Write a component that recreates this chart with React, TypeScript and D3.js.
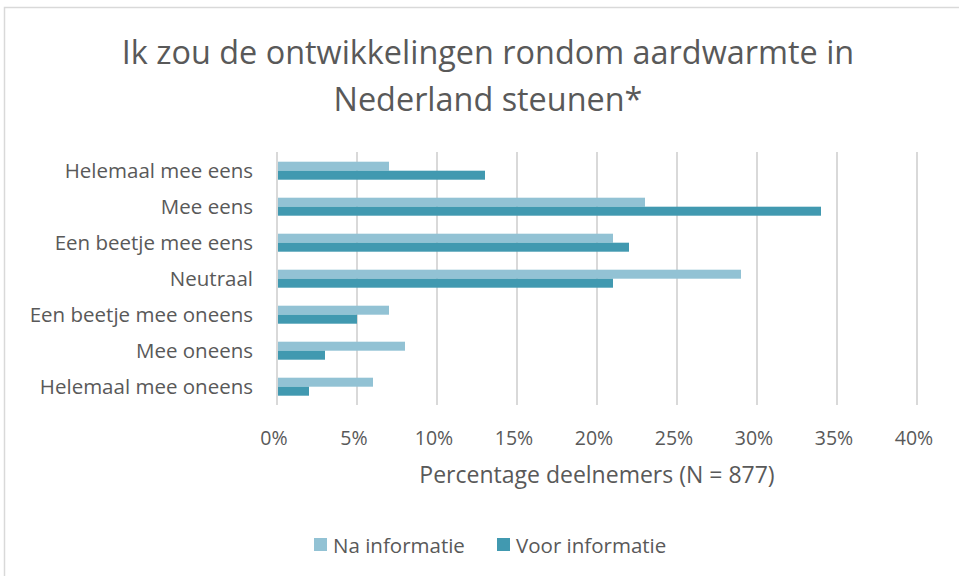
import { useEffect, useRef } from 'react';
import * as d3 from 'd3';

const categories = [
  'Helemaal mee eens',
  'Mee eens',
  'Een beetje mee eens',
  'Neutraal',
  'Een beetje mee oneens',
  'Mee oneens',
  'Helemaal mee oneens',
];
const naInformatie = [7, 23, 21, 29, 7, 8, 6];
const voorInformatie = [13, 34, 22, 21, 5, 3, 2];
const xTicks = [0, 5, 10, 15, 20, 25, 30, 35, 40];

const seriesNames = ['Na informatie', 'Voor informatie'];
const seriesColors = ['#92c2d4', '#4199b0'];

export default function App() {
  const svgRef = useRef<SVGSVGElement>(null);

  useEffect(() => {
    if (!svgRef.current) return;
    const svg = d3.select(svgRef.current);
    svg.selectAll('*').remove();

    const width = 959;
    const height = 576;
    const font = "'Open Sans', 'Noto Sans', sans-serif";
    const textColor = '#595959';

    // chart border
    svg.append('rect')
      .attr('x', 4.5)
      .attr('y', 7.5)
      .attr('width', width + 10)
      .attr('height', height + 10)
      .attr('fill', '#fff')
      .attr('stroke', '#d9d9d9')
      .attr('stroke-width', 1.5);

    // title
    const title = svg.append('text')
      .attr('text-anchor', 'middle')
      .attr('font-family', font)
      .attr('font-size', 32.4)
      .attr('fill', textColor);
    title.append('tspan').attr('x', 488).attr('y', 64)
      .text('Ik zou de ontwikkelingen rondom aardwarmte in');
    title.append('tspan').attr('x', 488).attr('y', 111)
      .text('Nederland steunen*');

    const x = d3.scaleLinear().domain([0, 40]).range([277, 917]);
    const y = d3.scaleBand().domain(categories).range([152.7, 404.7]).paddingInner(0.5).paddingOuter(0.25);
    const bw = y.bandwidth() / 2;

    // gridlines
    svg.append('g')
      .selectAll('line')
      .data(xTicks)
      .join('line')
      .attr('x1', (d) => x(d))
      .attr('x2', (d) => x(d))
      .attr('y1', 152)
      .attr('y2', 405)
      .attr('stroke', '#d9d9d9')
      .attr('stroke-width', 2);

    // bars
    const series = [naInformatie, voorInformatie];
    series.forEach((vals, si) => {
      svg.append('g')
        .selectAll('rect')
        .data(vals)
        .join('rect')
        .attr('x', x(0) + 1)
        .attr('y', (_, i) => (y(categories[i]) as number) + si * bw)
        .attr('width', (d) => x(d) - x(0) - 1)
        .attr('height', bw)
        .attr('fill', seriesColors[si]);
    });

    // category labels
    svg.append('g')
      .selectAll('text')
      .data(categories)
      .join('text')
      .attr('x', 253)
      .attr('y', (d) => (y(d) as number) + bw)
      .attr('dy', '0.35em')
      .attr('text-anchor', 'end')
      .attr('font-family', font)
      .attr('font-size', 20.5)
      .attr('fill', textColor)
      .text((d) => d);

    // tick labels
    svg.append('g')
      .selectAll('text')
      .data(xTicks)
      .join('text')
      .attr('x', (d) => x(d) - 3)
      .attr('y', 445)
      .attr('text-anchor', 'middle')
      .attr('font-family', font)
      .attr('font-size', 19.5)
      .attr('fill', textColor)
      .text((d) => `${d}%`);

    // axis title
    svg.append('text')
      .attr('x', 597)
      .attr('y', 483)
      .attr('text-anchor', 'middle')
      .attr('font-family', font)
      .attr('font-size', 23)
      .attr('fill', textColor)
      .text('Percentage deelnemers (N = 877)');

    // legend
    const legendX = [314, 497];
    seriesNames.forEach((name, i) => {
      svg.append('rect')
        .attr('x', legendX[i])
        .attr('y', 538)
        .attr('width', 13)
        .attr('height', 13)
        .attr('fill', seriesColors[i]);
      svg.append('text')
        .attr('x', legendX[i] + 19)
        .attr('y', 553)
        .attr('font-family', font)
        .attr('font-size', 20.5)
        .attr('fill', textColor)
        .text(name);
    });
  }, []);

  return (
    <svg
      ref={svgRef}
      width={959}
      height={576}
      style={{ position: 'absolute', left: 0, top: 0, display: 'block' }}
    />
  );
}
